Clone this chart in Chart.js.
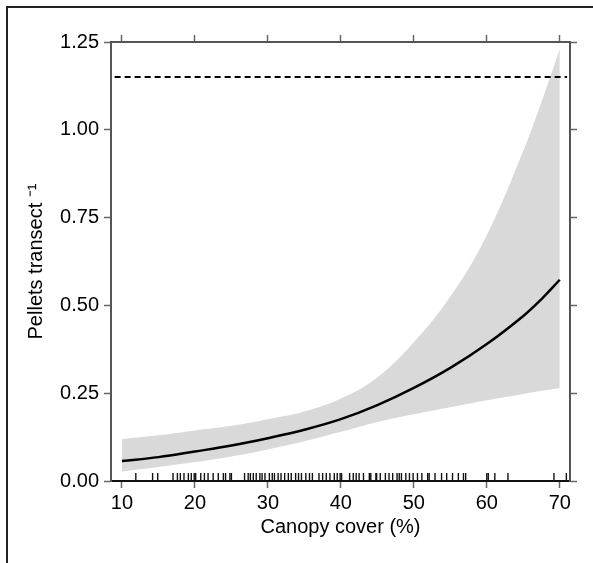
<!DOCTYPE html>
<html>
<head>
<meta charset="utf-8">
<script src="https://cdn.jsdelivr.net/npm/chart.js@4.4.1/dist/chart.umd.min.js"></script>
<style>
  html, body { margin: 0; padding: 0; background: #fff; }
  #wrap { position: relative; width: 593px; height: 563px; }
  #frame { position: absolute; left: 6px; top: 6px; right: 0; bottom: 0;
           border-left: 2px solid #222; border-top: 2px solid #222; pointer-events: none; }
</style>
</head>
<body>
<div id="wrap">
  <canvas id="g1" width="593" height="563"></canvas>
  <div id="frame"></div>
</div>
<script>
  // canopy cover values where the fitted curve was read
  var cover = [10, 15, 20, 25, 30, 35, 40, 45, 50, 55, 60, 65, 67.5, 70];
  // fitted pellets per transect and the confidence band
  var fitted = [0.057, 0.068, 0.084, 0.101, 0.122, 0.146, 0.176, 0.216, 0.265, 0.322, 0.39, 0.47, 0.518, 0.573];
  var upper  = [0.119, 0.13, 0.144, 0.157, 0.176, 0.198, 0.235, 0.295, 0.395, 0.525, 0.70, 0.94, 1.08, 1.23];
  var lower  = [0.027, 0.04, 0.054, 0.07, 0.09, 0.113, 0.14, 0.168, 0.19, 0.21, 0.23, 0.248, 0.257, 0.265];

  // reference level (dashed line)
  var refLevel = 1.15;
  var refSpan = [9, 71];

  // observed canopy cover of the transects (rug)
  var rugCover = [11.9, 14.2, 14.9, 17.0, 17.6, 18.0, 18.5, 19.1, 19.5, 19.9, 20.1, 20.8, 21.3, 21.8,
    22.5, 23.2, 23.9, 24.2, 24.8, 25.0, 26.8, 27.3, 27.6, 28.0, 28.4, 28.9, 29.2, 29.6, 30.2, 30.6,
    30.9, 31.4, 31.8, 32.3, 32.8, 33.2, 33.8, 34.2, 34.6, 35.2, 35.7, 36.1, 37.0, 37.5, 38.0, 38.5,
    39.1, 39.5, 39.9, 40.1, 41.2, 41.7, 42.1, 42.5, 43.1, 43.9, 44.1, 44.8, 44.9, 45.4, 46.1, 46.6,
    47.1, 47.7, 48.0, 48.3, 48.9, 49.4, 49.9, 50.5, 51.1, 51.9, 52.1, 52.9, 53.8, 54.5, 55.3, 56.1,
    56.8, 57.1, 60.0, 60.2, 61.1, 62.9, 69.2, 70.9];

  // axis ranges and ticks
  var xMin = 8.5, xMax = 71.4, xStep = 10;
  var yMin = 0, yMax = 1.25, yStep = 0.25;

  function pts(xs, ys) {
    var out = [];
    for (var i = 0; i < xs.length; i++) out.push({x: xs[i], y: ys[i]});
    return out;
  }

  // rug marks along the bottom axis
  var rugPlugin = {
    id: 'rug',
    afterDatasetsDraw: function(chart) {
      var ctx = chart.ctx, xs = chart.scales.x, bottom = chart.chartArea.bottom;
      ctx.save();
      ctx.strokeStyle = '#111';
      ctx.lineWidth = 1.4;
      for (var i = 0; i < rugCover.length; i++) {
        var px = xs.getPixelForValue(rugCover[i]);
        ctx.beginPath();
        ctx.moveTo(px, bottom);
        ctx.lineTo(px, bottom - 8);
        ctx.stroke();
      }
      ctx.restore();
    }
  };

  Chart.defaults.font.family = '"Liberation Sans", Arial, sans-serif';
  Chart.defaults.color = '#000';

  function axisSide(pos, fitSize) {
    return {
      type: 'linear',
      position: pos,
      afterFit: function(s) {
        if (pos === 'left' || pos === 'right') s.width = fitSize; else s.height = fitSize;
      }
    };
  }

  var xAxis = axisSide('bottom', 82);
  xAxis.min = xMin; xAxis.max = xMax;
  xAxis.ticks = { stepSize: xStep, includeBounds: false, padding: 3, font: { size: 20 }, maxRotation: 0 };
  xAxis.grid = { drawOnChartArea: false, drawTicks: true, tickLength: 7, tickColor: '#666', tickWidth: 1.5 };
  xAxis.border = { color: '#111', width: 2 };
  xAxis.title = { display: true, text: 'Canopy cover (%)', font: { size: 20 }, padding: { top: 0, bottom: 24 } };

  var xTop = axisSide('top', 42);
  xTop.min = xMin; xTop.max = xMax;
  xTop.ticks = { stepSize: xStep, includeBounds: false, display: false };
  xTop.grid = { drawOnChartArea: false, drawTicks: true, tickLength: 7, tickColor: '#666', tickWidth: 1.5 };
  xTop.border = { color: '#555', width: 2 };

  var yAxis = axisSide('left', 111);
  yAxis.min = yMin; yAxis.max = yMax;
  yAxis.ticks = { stepSize: yStep, padding: 5, font: { size: 20 }, callback: function(v) { return v.toFixed(2); } };
  yAxis.grid = { drawOnChartArea: false, drawTicks: true, tickLength: 7, tickColor: '#666', tickWidth: 1.5 };
  yAxis.border = { color: '#555', width: 2 };
  yAxis.title = { display: true, text: 'Pellets transect \u207B\u00B9', font: { size: 20 }, padding: { top: 24, bottom: 0 } };

  var yRight = axisSide('right', 23);
  yRight.min = yMin; yRight.max = yMax;
  yRight.ticks = { stepSize: yStep, display: false };
  yRight.grid = { drawOnChartArea: false, drawTicks: true, tickLength: 7, tickColor: '#666', tickWidth: 1.5 };
  yRight.border = { color: '#555', width: 2 };

  var ctx1 = document.getElementById('g1').getContext('2d');
  var chart1 = new Chart(ctx1, {
    type: 'line',
    data: {
      datasets: [
        {
          label: 'fit',
          data: pts(cover, fitted),
          borderColor: '#000',
          borderWidth: 2.5,
          pointRadius: 0,
          tension: 0.4,
          fill: false,
          order: 0
        },
        {
          label: 'reference',
          data: pts(refSpan, [refLevel, refLevel]),
          borderColor: '#000',
          borderWidth: 2,
          borderDash: [6, 4],
          pointRadius: 0,
          fill: false,
          order: 1
        },
        {
          label: 'upper',
          data: pts(cover, upper),
          borderWidth: 0,
          borderColor: 'rgba(0,0,0,0)',
          backgroundColor: '#d9d9d9',
          pointRadius: 0,
          tension: 0.4,
          fill: '+1',
          order: 2
        },
        {
          label: 'lower',
          data: pts(cover, lower),
          borderWidth: 0,
          borderColor: 'rgba(0,0,0,0)',
          pointRadius: 0,
          tension: 0.4,
          fill: false,
          order: 3
        }
      ]
    },
    options: {
      responsive: false,
      animation: false,
      layout: { padding: 0 },
      plugins: {
        legend: { display: false },
        tooltip: { enabled: false }
      },
      scales: {
        x: xAxis,
        x2: xTop,
        y: yAxis,
        y2: yRight
      }
    },
    plugins: [rugPlugin]
  });
</script>
</body>
</html>
